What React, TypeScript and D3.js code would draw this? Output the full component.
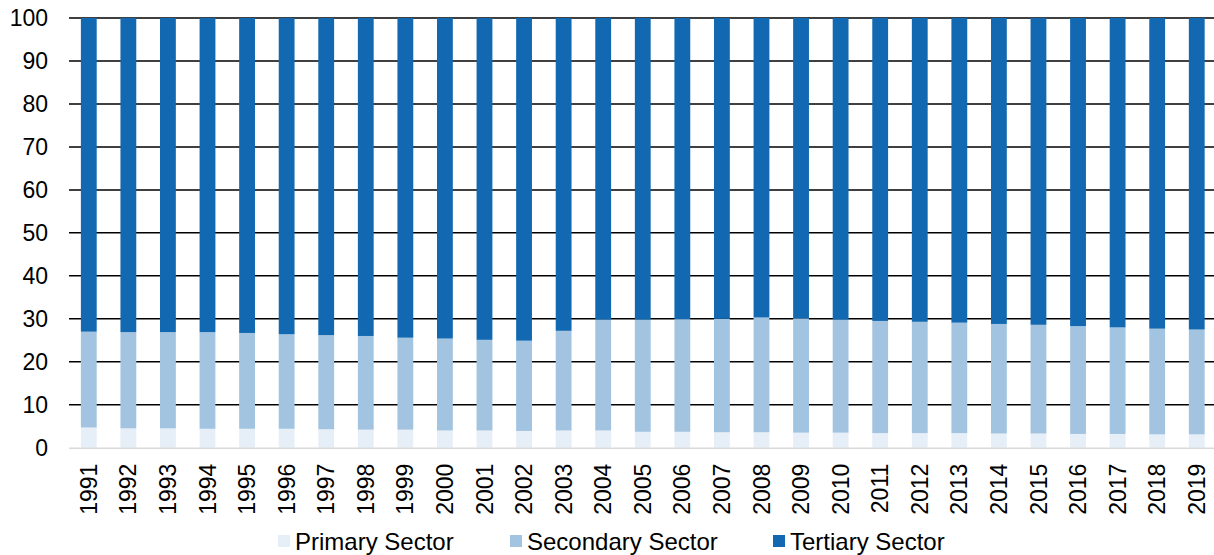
import React, { useEffect } from 'react';
import * as d3 from 'd3';

const years = [
  '1991', '1992', '1993', '1994', '1995', '1996', '1997', '1998', '1999', '2000',
  '2001', '2002', '2003', '2004', '2005', '2006', '2007', '2008', '2009', '2010',
  '2011', '2012', '2013', '2014', '2015', '2016', '2017', '2018', '2019',
];

const primary = [
  4.7, 4.5, 4.5, 4.4, 4.4, 4.4, 4.3, 4.2, 4.2, 4.0,
  4.0, 3.9, 4.0, 4.0, 3.7, 3.7, 3.6, 3.6, 3.5, 3.5,
  3.4, 3.4, 3.4, 3.3, 3.3, 3.2, 3.2, 3.1, 3.1,
];

// primary + secondary (top of the light-blue segment)
const industryTop = [
  27.0, 26.9, 26.9, 26.9, 26.7, 26.4, 26.2, 26.0, 25.6, 25.4,
  25.1, 24.9, 27.2, 29.8, 29.8, 29.9, 30.0, 30.3, 30.1, 29.8,
  29.5, 29.3, 29.1, 28.8, 28.6, 28.3, 28.0, 27.7, 27.5,
];

const secondary = industryTop.map((t, i) => +(t - primary[i]).toFixed(1));
const tertiary = industryTop.map(t => +(100 - t).toFixed(1));

const seriesNames = ['Primary Sector', 'Secondary Sector', 'Tertiary Sector'];
const seriesColors = ['#e6eef7', '#a2c4e0', '#1269b1'];
const yTicks = [0, 10, 20, 30, 40, 50, 60, 70, 80, 90, 100];

const width = 1214;
const height = 555;
const margin = { top: 18, right: 0, bottom: 107, left: 69 };
const font = 'Arial, "Liberation Sans", sans-serif';

const App: React.FC = () => {
  useEffect(() => {
    document.body.style.margin = '0';
  }, []);

  const rows = years.map((y, i) => ({
    year: y,
    'Primary Sector': primary[i],
    'Secondary Sector': secondary[i],
    'Tertiary Sector': tertiary[i],
  }));

  const stack = d3.stack<any>().keys(seriesNames);
  const layers = stack(rows);

  const x = d3.scaleBand()
    .domain(years)
    .range([margin.left, margin.left + years.length * 39.57])
    .paddingInner(0.6)
    .paddingOuter(0.3);

  const y = d3.scaleLinear()
    .domain([0, 100])
    .range([height - margin.bottom - 0.3, margin.top]);

  const legendPos = [278, 510, 773];

  return (
    <svg width={width} height={height} style={{ display: 'block', background: '#fff' }}>
      {/* gridlines */}
      {yTicks.filter(t => t > 0).map(t => (
        <line key={t} x1={margin.left} x2={width} y1={y(t)} y2={y(t)} stroke="#000" strokeWidth={1.5} />
      ))}
      {/* bars */}
      {layers.map((layer, li) => (
        <g key={layer.key} fill={seriesColors[li]}>
          {layer.map((d, i) => (
            <rect
              key={i}
              x={x(years[i])}
              y={y(d[1])}
              width={x.bandwidth()}
              height={y(d[0]) - y(d[1])}
            />
          ))}
        </g>
      ))}
      {/* baseline */}
      <line x1={margin.left} x2={width} y1={y(0) + 0.5} y2={y(0) + 0.5} stroke="#d9d9d9" strokeWidth={1.5} />
      {/* y labels */}
      {yTicks.map(t => (
        <text key={t} x={48} y={y(t)} dy="0.36em" textAnchor="end" fontFamily={font} fontSize={23} fill="#000">
          {t}
        </text>
      ))}
      {/* x labels */}
      {years.map(yr => {
        const cx = (x(yr) || 0) + x.bandwidth() / 2;
        return (
          <text
            key={yr}
            transform={`translate(${cx},${y(0) + 16}) rotate(-90)`}
            dy="0.35em"
            textAnchor="end"
            fontFamily={font}
            fontSize={23}
            fill="#000"
          >
            {yr}
          </text>
        );
      })}
      {/* legend */}
      {seriesNames.map((name, i) => (
        <g key={name} transform={`translate(${legendPos[i]},541)`}>
          <rect x={0} y={-6} width={12} height={12} fill={seriesColors[i]} />
          <text x={17} y={0} dy="0.36em" fontFamily={font} fontSize={24} fill="#000">
            {name}
          </text>
        </g>
      ))}
    </svg>
  );
};

export default App;
